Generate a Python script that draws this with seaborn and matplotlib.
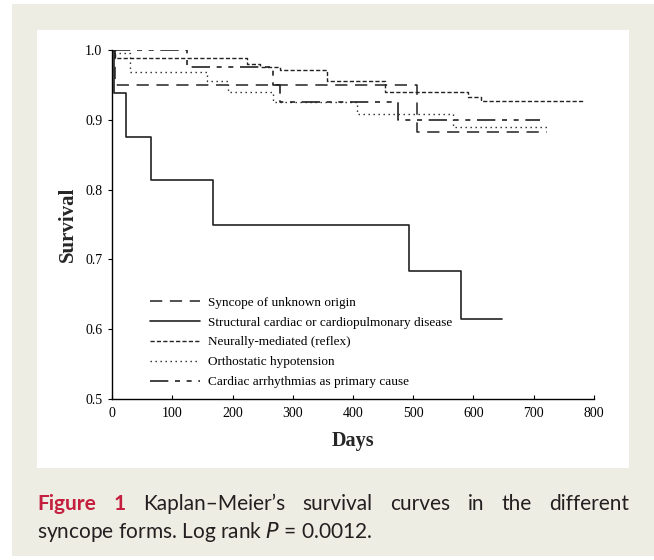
import matplotlib
matplotlib.use("Agg")
import matplotlib.pyplot as plt
from matplotlib.patches import Rectangle
import seaborn as sns
import pandas as pd

# step curves: day of each step and survival after it
unknown_days = [0, 5, 506, 722]
unknown_surv = [1.0, 0.950, 0.883, 0.883]

structural_days = [0, 3, 23, 65, 167, 493, 580, 648]
structural_surv = [1.0, 0.938, 0.875, 0.814, 0.750, 0.683, 0.615, 0.615]

neural_days = [0, 5, 224, 245, 279, 357, 453, 591, 612, 782]
neural_surv = [1.0, 0.988, 0.980, 0.975, 0.971, 0.955, 0.940, 0.933, 0.927, 0.927]

ortho_days = [0, 3, 30, 157, 193, 268, 406, 566, 727]
ortho_surv = [1.0, 0.995, 0.969, 0.955, 0.940, 0.926, 0.908, 0.890, 0.890]

arrhythm_days = [0, 125, 268, 279, 474, 710]
arrhythm_surv = [1.0, 0.976, 0.950, 0.926, 0.900, 0.900]

labels = ["Syncope of unknown origin",
          "Structural cardiac or cardiopulmonary disease",
          "Neurally-mediated (reflex)",
          "Orthostatic hypotension",
          "Cardiac arrhythmias as primary cause"]

x_ticks = [0, 100, 200, 300, 400, 500, 600, 700, 800]
y_ticks = [0.5, 0.6, 0.7, 0.8, 0.9, 1.0]

curves = [(unknown_days, unknown_surv), (structural_days, structural_surv),
          (neural_days, neural_surv), (ortho_days, ortho_surv),
          (arrhythm_days, arrhythm_surv)]
styles = [(0, (8, 5)), "-", (0, (3, 1.6)), (0, (1, 2.6)), (0, (11, 4, 3, 4, 3, 4))]
widths = [1.1, 1.2, 1.0, 1.0, 1.2]

sns.set_theme(style="white")
plt.rcParams["font.family"] = ["Liberation Serif", "DejaVu Serif"]

fig = plt.figure(figsize=(6.54, 5.6), dpi=100)
fig.patch.set_facecolor("white")
fig.patches.append(Rectangle((12 / 654, 4 / 560), 642 / 654, 552 / 560,
                             transform=fig.transFigure, facecolor="#eeede3",
                             edgecolor="none", zorder=-2))
fig.patches.append(Rectangle((37 / 654, 92 / 560), 592 / 654, 438 / 560,
                             transform=fig.transFigure, facecolor="white",
                             edgecolor="none", zorder=-1))

ax = fig.add_axes([112 / 654, 161 / 560, 482 / 654, 349 / 560])
ax.set_zorder(2)
ax.patch.set_alpha(0)

for (d, s), lab, ls, lw in zip(curves, labels, styles, widths):
    df = pd.DataFrame({"day": d, "surv": s})
    sns.lineplot(data=df, x="day", y="surv", ax=ax, estimator=None,
                 drawstyle="steps-post", color="#222222", linestyle=ls,
                 linewidth=lw, label=lab)

ax.set_xlim(0, 800)
ax.set_ylim(0.5, 1.0)
ax.set_xticks(x_ticks)
ax.set_yticks(y_ticks)
ax.set_xticklabels([str(t) for t in x_ticks])
ax.set_yticklabels([f"{t:.1f}" for t in y_ticks])
for sp in ["top", "right"]:
    ax.spines[sp].set_visible(False)
for sp in ["left", "bottom"]:
    ax.spines[sp].set_color("black")
    ax.spines[sp].set_linewidth(1.0)
ax.tick_params(axis="x", direction="in", length=3, width=0.8, pad=6,
               labelsize=10, colors="black", bottom=True)
ax.tick_params(axis="y", direction="out", length=3, width=0.8, pad=4,
               labelsize=10, colors="black", left=True)
ax.set_xlabel("Days", fontsize=14.5, fontweight="bold", labelpad=8)
ax.set_ylabel("Survival", fontsize=15, fontweight="bold", labelpad=5)
ax.grid(False)

leg = ax.legend(loc="upper left", bbox_to_anchor=(0.079, 0.294), frameon=False,
                fontsize=9.5, handlelength=3.8, handletextpad=0.6,
                labelspacing=0.58, borderpad=0, borderaxespad=0)
for t in leg.get_texts():
    t.set_color("black")

# caption, first line justified between the panel edges
cap = dict(family=["Lato", "DejaVu Sans"], fontsize=15)
red = "#c41f3e"
ink = "#231f20"
words = [("Figure", red, "bold"), ("1", red, "bold"), ("Kaplan\u2013Meier\u2019s", ink, "normal"),
         ("survival", ink, "normal"), ("curves", ink, "normal"),
         ("in", ink, "normal"), ("the", ink, "normal"),
         ("different", ink, "normal")]
y1 = 1 - 504 / 560
texts = [fig.text(0, y1, w, color=c, fontweight=fw, va="center", ha="left", **cap)
         for w, c, fw in words]
r = fig.canvas.get_renderer()
wpx = [t.get_window_extent(r).width for t in texts]
gap = (592 - sum(wpx)) / (len(words) - 1)
x = 37.0
for t, w in zip(texts, wpx):
    t.set_x(x / 654)
    x += w + gap

fig.text(37 / 654, 1 - 532 / 560, "syncope forms. Log rank $\\it{P}$ = 0.0012.",
         color=ink, va="center", ha="left", **cap)

fig.savefig("out.png", dpi=100, facecolor=fig.get_facecolor())
